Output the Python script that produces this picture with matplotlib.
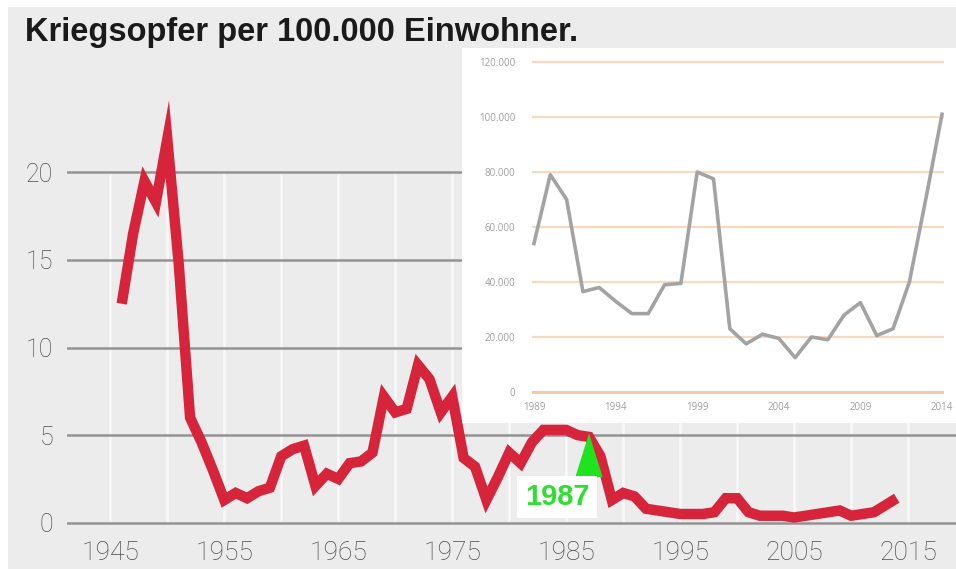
import numpy as np
import matplotlib
matplotlib.use("Agg")
import matplotlib.pyplot as plt
from matplotlib.patches import Rectangle, Polygon
from matplotlib.ticker import FuncFormatter

# main series: war victims per 100.000 inhabitants
years = list(range(1946, 2015))
victims = [12.5, 16.5, 19.5, 18.3, 21.9, 14.8, 6.0, 4.6, 3.0, 1.3,
           1.7, 1.4, 1.8, 2.0, 3.8, 4.2, 4.4, 2.1, 2.8, 2.5,
           3.4, 3.5, 4.0, 7.2, 6.3, 6.5, 9.0, 8.2, 6.3, 7.2,
           3.7, 3.2, 1.3, 2.6, 4.0, 3.4, 4.6, 5.3, 5.3, 5.3,
           5.0, 4.9, 3.8, 1.3, 1.7, 1.5, 0.8, 0.7, 0.6, 0.5,
           0.5, 0.5, 0.6, 1.4, 1.4, 0.6, 0.4, 0.4, 0.4, 0.3,
           0.4, 0.5, 0.6, 0.7, 0.4, 0.5, 0.6, 1.0, 1.4]
main_yticks = [0, 5, 10, 15, 20]
main_xticks = [1945, 1955, 1965, 1975, 1985, 1995, 2005, 2015]
marked_year = 1987

# inset series: absolute number of war deaths
inset_years = list(range(1989, 2015))
inset_deaths = [54000, 79000, 70000, 36500, 38000, 33000, 28500, 28500, 39000, 39500,
                80000, 77500, 23000, 17500, 21000, 19500, 12500, 20000, 19000, 28000,
                32500, 20500, 23000, 40000, 70000, 101000]
inset_yticks = [0, 20000, 40000, 60000, 80000, 100000, 120000]
inset_xticks = [1989, 1994, 1999, 2004, 2009, 2014]

W, H = 956, 569
BG = "#ececec"


def fig_box(x0, y0, x1, y1):
    # pixel box (top-left origin) -> figure fraction [left, bottom, w, h]
    return [x0 / W, 1 - y1 / H, (x1 - x0) / W, (y1 - y0) / H]


fig = plt.figure(figsize=(W / 100, H / 100), dpi=100, facecolor="white")
fig.patches.append(Rectangle((8 / W, 0), 1, 1 - 7 / H, transform=fig.transFigure,
                             facecolor=BG, edgecolor="none", zorder=-5))

fig.text(25 / W, 1 - 41 / H, "Kriegsopfer per 100.000 Einwohner.",
         fontsize=23.5, fontweight="bold", family="Liberation Sans",
         color="#1a1a1a", va="baseline", ha="left")

# main chart
ax = fig.add_axes(fig_box(67, 55, 956, 528))
ax.patch.set_alpha(0)
for s in ax.spines.values():
    s.set_visible(False)
ax.set_xlim(1941.2, 2019.2)
ax.set_ylim(-0.3, 26.7)

for yv in main_yticks:
    ax.axhline(yv, color="#939393", lw=1.8, zorder=1)
ax.vlines(range(1945, 2020, 5), 0, 20, color="#f8f8f8", lw=1.8, zorder=0.5)

ax.plot(years, victims, color="#d6243a", lw=7.5, solid_joinstyle="miter",
        solid_capstyle="butt", zorder=3)

ax.set_yticks(main_yticks)
ax.set_xticks(main_xticks)
ax.tick_params(length=0)
ax.tick_params(axis="y", pad=10, labelsize=18, labelcolor="#4d4d4d")
ax.tick_params(axis="x", pad=9, labelsize=19, labelcolor="#4d4d4d")
for lab in ax.get_xticklabels() + ax.get_yticklabels():
    lab.set_family("Roboto")
    lab.set_fontweight("light")

# 1987 marker
mval = victims[years.index(marked_year)]
tri = Polygon([[marked_year, mval + 0.2], [marked_year - 1.2, mval - 2.3],
               [marked_year + 1.2, mval - 2.3]], closed=True,
              facecolor="#1ee31e", edgecolor="none", zorder=4)
ax.add_patch(tri)
ax.annotate(str(marked_year), xy=(marked_year, mval), xytext=(-32, -60),
            textcoords="offset pixels", ha="center", va="center",
            fontsize=21, fontweight="bold", family="Liberation Sans",
            color="#2ee02e", zorder=5,
            bbox=dict(boxstyle="square,pad=0.25", facecolor="white", edgecolor="none"))

# inset
box = fig.add_axes(fig_box(462, 48, 956, 423))
box.set_facecolor("white")
box.set_xticks([])
box.set_yticks([])
for s in box.spines.values():
    s.set_visible(False)

ins = fig.add_axes(fig_box(532, 60, 944, 394))
ins.patch.set_alpha(0)
for s in ins.spines.values():
    s.set_visible(False)
ins.set_xlim(1988.88, 2014.12)
ins.set_ylim(-730, 120730)
for yv in inset_yticks:
    ins.axhline(yv, color="#f8d9bd" if yv else "#f2cca8", lw=1.6 if yv else 2.2, zorder=1)
ins.plot(inset_years, inset_deaths, color="#a3a3a3", lw=2.6, zorder=3)
ins.set_yticks(inset_yticks)
ins.set_xticks(inset_xticks)
ins.yaxis.set_major_formatter(FuncFormatter(lambda v, p: f"{int(v):,}".replace(",", ".")))
ins.tick_params(length=0, labelsize=7, labelcolor="#a0a0a0")
ins.tick_params(axis="y", pad=12)
ins.tick_params(axis="x", pad=6)
for lab in ins.get_xticklabels() + ins.get_yticklabels():
    lab.set_family("Open Sans")

fig.savefig("out.png", dpi=100, facecolor="white")
